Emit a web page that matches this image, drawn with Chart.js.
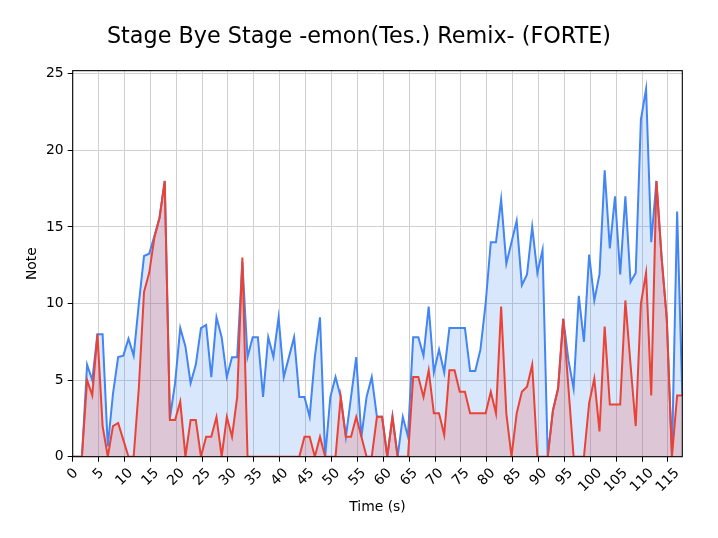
<!DOCTYPE html>
<html>
<head>
<meta charset="utf-8">
<script src="https://cdn.jsdelivr.net/npm/chart.js@4.4.1/dist/chart.umd.min.js"></script>
<style>
  html, body { margin: 0; padding: 0; background: #fff; }
</style>
</head>
<body>
<canvas id="noteChart" width="718" height="538"></canvas>
<script>
// samples are one second apart, first one at 0.78 s (plus a zero at t = 0)
const firstSample = 0.78;

const blueNotes = [
    0, 0, 6, 5, 8, 8, 0.67, 4.1, 6.5, 6.6,
    7.7, 6.6, 10, 13.1, 13.25, 14.4, 15.6, 18, 2.5, 4.8,
    8.4, 7.2, 4.8, 6, 8.4, 8.6, 5.2, 9.1, 7.8, 5.2,
    6.5, 6.5, 12.7, 6.5, 7.8, 7.8, 3.9, 7.8, 6.5, 9.1,
    5.2, 6.5, 7.8, 3.9, 3.9, 2.6, 6.5, 9.1, 0, 3.9,
    5.2, 3.9, 1.3, 3.9, 6.5, 1.3, 3.9, 5.2, 2.6, 2.6,
    0, 2.6, 0, 2.6, 1.3, 7.8, 7.8, 6.6, 9.8, 5.5,
    7, 5.5, 8.4, 8.4, 8.4, 8.4, 5.6, 5.6, 7, 10,
    14, 14, 16.8, 12.6, 14, 15.4, 11.2, 11.9, 15, 12,
    13.5, 0, 3, 4.45, 9, 6.3, 4.45, 10.5, 7.5, 13.2,
    10.2, 11.9, 18.7, 13.6, 17, 11.9, 17, 11.4, 12, 22,
    24, 14, 18, 13, 9, 0, 16, 4
];

const redNotes = [
    0, 0, 5, 4, 8, 2, 0, 2, 2.2, 1.1,
    0, 0, 4.5, 10.75, 12, 14.3, 15.6, 18, 2.4, 2.4,
    3.6, 0, 2.4, 2.4, 0, 1.3, 1.3, 2.6, 0, 2.6,
    1.3, 3.9, 13, 0, 0, 0, 0, 0, 0, 0,
    0, 0, 0, 0, 1.3, 1.3, 0, 1.3, 0, 0,
    0, 3.9, 1.3, 1.3, 2.6, 1.3, 0, 0, 2.6, 2.6,
    0, 2.6, 0, 0, 0, 5.2, 5.2, 3.9, 5.65, 2.83,
    2.83, 1.41, 5.65, 5.65, 4.24, 4.24, 2.83, 2.83, 2.83, 2.83,
    4.24, 2.83, 9.8, 2.83, 0, 2.83, 4.24, 4.56, 6, 0,
    0, 0, 3, 4.45, 9, 4.5, 0, 0, 0, 3.5,
    5.1, 1.65, 8.5, 3.4, 3.4, 3.4, 10.2, 6, 2, 10,
    12, 4, 18, 13, 9, 0, 4, 4
];

const xTicks = [0, 5, 10, 15, 20, 25, 30, 35, 40, 45, 50, 55, 60, 65, 70, 75, 80, 85, 90, 95, 100, 105, 110, 115];
const yTicks = [0, 5, 10, 15, 20, 25];

const FONT = "'DejaVu Sans', sans-serif";

function toPoints(values) {
    const pts = [{ x: 0, y: values[0] }];
    values.forEach((v, i) => pts.push({ x: firstSample + i, y: v }));
    return pts;
}

// black frame round the plot + matplotlib-style centred rotated x labels
const frameAndLabels = {
    id: 'frameAndLabels',
    afterDraw(chart) {
        const { ctx, chartArea: a, scales } = chart;
        ctx.save();
        ctx.strokeStyle = '#000';
        ctx.lineWidth = 1.1;
        ctx.strokeRect(a.left, a.top, a.right - a.left, a.bottom - a.top);

        ctx.font = '13.9px ' + FONT;
        ctx.fillStyle = '#000';
        ctx.textAlign = 'center';
        ctx.textBaseline = 'middle';
        const h = 13.9 * 0.95;
        xTicks.forEach(v => {
            const label = String(v);
            const w = ctx.measureText(label).width;
            const box = (w + h) * Math.SQRT1_2;
            const px = scales.x.getPixelForValue(v);
            ctx.save();
            ctx.translate(px, a.bottom + 9.7 + box / 2);
            ctx.rotate(-Math.PI / 4);
            ctx.fillText(label, 0, 0);
            ctx.restore();
        });
        ctx.restore();
    }
};

new Chart(document.getElementById('noteChart').getContext('2d'), {
    type: 'line',
    data: {
        datasets: [
            {
                label: 'red',
                data: toPoints(redNotes),
                borderColor: '#EA4335',
                backgroundColor: 'rgba(234, 67, 53, 0.2)',
                borderWidth: 2,
                fill: 'origin',
                pointRadius: 0,
                tension: 0,
                order: 1
            },
            {
                label: 'blue',
                data: toPoints(blueNotes),
                borderColor: '#4285F4',
                backgroundColor: 'rgba(66, 133, 244, 0.2)',
                borderWidth: 2,
                fill: 'origin',
                pointRadius: 0,
                tension: 0,
                order: 2
            }
        ]
    },
    options: {
        responsive: false,
        animation: false,
        devicePixelRatio: 1,
        layout: { padding: 0 },
        plugins: {
            legend: { display: false },
            tooltip: { enabled: false },
            title: {
                display: true,
                text: 'Stage Bye Stage -emon(Tes.) Remix- (FORTE)',
                color: '#000',
                font: { family: FONT, size: 22.3, weight: 'normal', lineHeight: 1.2 },
                padding: { top: 24, bottom: 19.9 }
            }
        },
        scales: {
            x: {
                type: 'linear',
                min: 0,
                max: 117.78,
                afterBuildTicks: s => { s.ticks = xTicks.map(v => ({ value: v })); },
                afterFit: s => { s.height = 81.3; },
                border: { display: false },
                grid: { color: '#d0d0d0', lineWidth: 1, tickColor: '#000', tickLength: 5 },
                ticks: { display: false },
                title: {
                    display: true,
                    text: 'Time (s)',
                    color: '#000',
                    font: { family: FONT, size: 13.9 },
                    padding: { top: 0, bottom: 22 }
                }
            },
            y: {
                min: 0,
                max: 25.2,
                afterBuildTicks: s => { s.ticks = yTicks.map(v => ({ value: v })); },
                afterFit: s => { s.width = 72.7; },
                border: { display: false },
                grid: { color: '#d0d0d0', lineWidth: 1, tickColor: '#000', tickLength: 5 },
                ticks: {
                    color: '#000',
                    font: { family: FONT, size: 13.9 },
                    padding: 4
                },
                title: {
                    display: true,
                    text: 'Note',
                    color: '#000',
                    font: { family: FONT, size: 13.9 },
                    padding: { top: 24, bottom: 0 }
                }
            },
            // empty right-hand margin, so the title stays centred on the page
            rightMargin: {
                type: 'linear',
                position: 'right',
                min: 0,
                max: 1,
                afterFit: s => { s.width = 35.7; },
                border: { display: false },
                grid: { display: false, drawTicks: false },
                ticks: { display: false }
            }
        }
    },
    plugins: [frameAndLabels]
});
</script>
</body>
</html>
